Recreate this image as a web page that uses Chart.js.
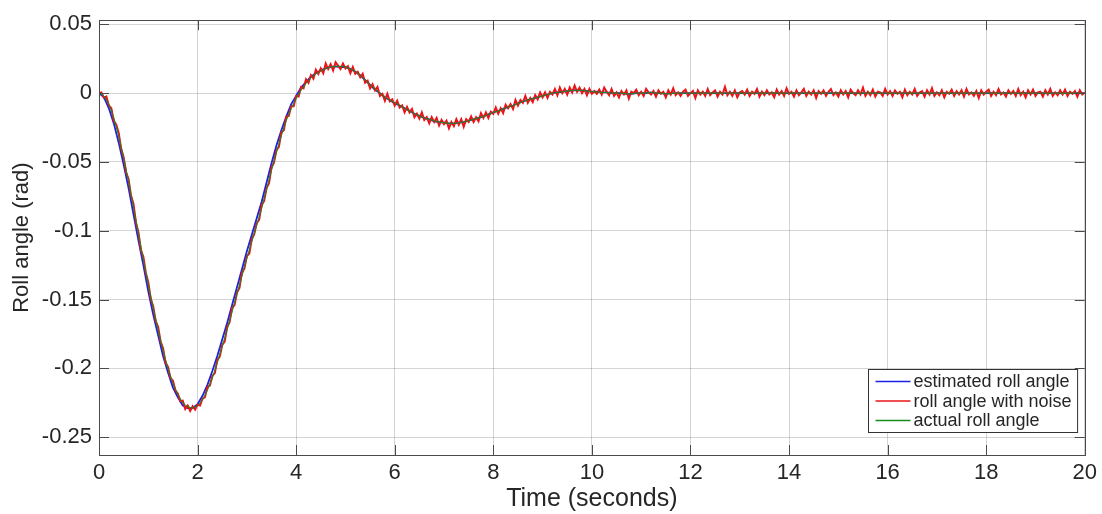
<!DOCTYPE html>
<html>
<head>
<meta charset="utf-8">
<script src="https://cdn.jsdelivr.net/npm/chart.js@4.4.1/dist/chart.umd.min.js"></script>
<style>
  html, body { margin: 0; padding: 0; background: #fff; }
  #wrap { width: 1102px; height: 514px; }
</style>
</head>
<body>
<div id="wrap"><canvas id="rollChart" width="1102" height="514"></canvas></div>
<script>
// sample times (s) for the estimated / actual signals
const timeLabels = [
  0, 0.1, 0.2, 0.3, 0.4, 0.5, 0.6, 0.7, 0.8, 0.9,
  1, 1.1, 1.2, 1.3, 1.4, 1.5, 1.6, 1.7, 1.8, 1.9,
  2, 2.1, 2.2, 2.3, 2.4, 2.5, 2.6, 2.7, 2.8, 2.9,
  3, 3.1, 3.2, 3.3, 3.4, 3.5, 3.6, 3.7, 3.8, 3.9,
  4, 4.1, 4.2, 4.3, 4.4, 4.5, 4.6, 4.7, 4.8, 4.9,
  5, 5.1, 5.2, 5.3, 5.4, 5.5, 5.6, 5.7, 5.8, 5.9,
  6, 6.1, 6.2, 6.3, 6.4, 6.5, 6.6, 6.7, 6.8, 6.9,
  7, 7.1, 7.2, 7.3, 7.4, 7.5, 7.6, 7.7, 7.8, 7.9,
  8, 8.1, 8.2, 8.3, 8.4, 8.5, 8.6, 8.7, 8.8, 8.9,
  9, 9.1, 9.2, 9.3, 9.4, 9.5, 9.6, 9.7, 9.8, 9.9,
  10, 10.1, 10.2, 10.3, 10.4, 10.5, 10.6, 10.7, 10.8, 10.9,
  11, 11.1, 11.2, 11.3, 11.4, 11.5, 11.6, 11.7, 11.8, 11.9,
  12, 12.1, 12.2, 12.3, 12.4, 12.5, 12.6, 12.7, 12.8, 12.9,
  13, 13.1, 13.2, 13.3, 13.4, 13.5, 13.6, 13.7, 13.8, 13.9,
  14, 14.1, 14.2, 14.3, 14.4, 14.5, 14.6, 14.7, 14.8, 14.9,
  15, 15.1, 15.2, 15.3, 15.4, 15.5, 15.6, 15.7, 15.8, 15.9,
  16, 16.1, 16.2, 16.3, 16.4, 16.5, 16.6, 16.7, 16.8, 16.9,
  17, 17.1, 17.2, 17.3, 17.4, 17.5, 17.6, 17.7, 17.8, 17.9,
  18, 18.1, 18.2, 18.3, 18.4, 18.5, 18.6, 18.7, 18.8, 18.9,
  19, 19.1, 19.2, 19.3, 19.4, 19.5, 19.6, 19.7, 19.8, 19.9,
  20
];

// estimated roll angle (rad)
const rollEstimated = [
  0, -0.003, -0.011, -0.022, -0.036, -0.052, -0.069, -0.088, -0.107, -0.125,
  -0.144, -0.161, -0.176, -0.191, -0.203, -0.214, -0.221, -0.227, -0.229, -0.229,
  -0.226, -0.22, -0.212, -0.202, -0.191, -0.179, -0.167, -0.154, -0.141, -0.128,
  -0.115, -0.103, -0.091, -0.079, -0.065, -0.051, -0.038, -0.027, -0.017, -0.008,
  -0.002, 0.004, 0.008, 0.012, 0.0145, 0.0165, 0.018, 0.019, 0.0195, 0.019,
  0.019, 0.0175, 0.0155, 0.013, 0.0095, 0.006, 0.0025, 0, -0.003, -0.005,
  -0.0075, -0.009, -0.011, -0.013, -0.015, -0.0165, -0.018, -0.019, -0.0205, -0.021,
  -0.0215, -0.022, -0.022, -0.0215, -0.021, -0.02, -0.019, -0.018, -0.017, -0.0155,
  -0.014, -0.013, -0.0115, -0.01, -0.009, -0.0075, -0.006, -0.005, -0.004, -0.003,
  -0.002, -0.001, 0, 0.0005, 0.001, 0.0015, 0.002, 0.002, 0.002, 0.0015,
  0.001, 0.001, 0.0005, 0.0005, 0, 0, 0, -0.0005, -0.0005, 0,
  0, 0, 0.0005, 0, 0, -0.0005, 0, 0, 0, 0,
  0, 0, 0, 0, 0, 0, 0, 0, 0, 0,
  0, 0, 0, 0, 0, 0, 0, 0, 0, 0,
  0, 0, 0, 0, 0, 0, 0, 0, 0, 0,
  0, 0, 0, 0, 0, 0, 0, 0, 0, 0,
  0, 0, 0, 0, 0, 0, 0, 0, 0, 0,
  0, 0, 0, 0, 0, 0, 0, 0, 0, 0,
  0, 0, 0, 0, 0, 0, 0, 0, 0, 0,
  0, 0, 0, 0, 0, 0, 0, 0, 0, 0,
  0
];

// actual roll angle (rad)
const rollActual = [
  0, -0.002, -0.008, -0.018, -0.031, -0.047, -0.064, -0.083, -0.102, -0.121,
  -0.139, -0.156, -0.172, -0.187, -0.2, -0.211, -0.219, -0.225, -0.228, -0.229,
  -0.227, -0.223, -0.216, -0.207, -0.196, -0.184, -0.172, -0.159, -0.146, -0.133,
  -0.12, -0.108, -0.096, -0.084, -0.07, -0.056, -0.043, -0.031, -0.02, -0.011,
  -0.004, 0.002, 0.007, 0.011, 0.014, 0.016, 0.018, 0.019, 0.0195, 0.0195,
  0.019, 0.0175, 0.016, 0.013, 0.0095, 0.006, 0.003, 0, -0.003, -0.005,
  -0.007, -0.009, -0.011, -0.013, -0.015, -0.0165, -0.018, -0.019, -0.02, -0.021,
  -0.0215, -0.022, -0.022, -0.0215, -0.021, -0.02, -0.019, -0.018, -0.017, -0.0155,
  -0.014, -0.013, -0.0115, -0.01, -0.009, -0.0075, -0.006, -0.005, -0.004, -0.003,
  -0.002, -0.001, 0, 0.0005, 0.001, 0.0015, 0.002, 0.002, 0.002, 0.0015,
  0.001, 0.001, 0.0005, 0.0005, 0, 0, 0, -0.0005, -0.0005, 0,
  0, 0, 0.0005, 0, 0, -0.0005, -0.0005, 0, 0, 0,
  0, 0, 0, 0, 0, 0, 0, 0, 0, 0,
  0, 0, 0, 0, 0, 0, 0, 0, 0, 0,
  0, 0, 0, 0, 0, 0, 0, 0, 0, 0,
  0, 0, 0, 0, 0, 0, 0, 0, 0, 0,
  0, 0, 0, 0, 0, 0, 0, 0, 0, 0,
  0, 0, 0, 0, 0, 0, 0, 0, 0, 0,
  0, 0, 0, 0, 0, 0, 0, 0, 0, 0,
  0, 0, 0, 0, 0, 0, 0, 0, 0, 0,
  0
];

// the noisy measurement is sampled twice as often
const noiseTimes = [
  0, 0.05, 0.1, 0.15, 0.2, 0.25, 0.3, 0.35, 0.4, 0.45, 0.5, 0.55, 0.6, 0.65, 0.7, 0.75, 0.8, 0.85, 0.9, 0.95,
  1, 1.05, 1.1, 1.15, 1.2, 1.25, 1.3, 1.35, 1.4, 1.45, 1.5, 1.55, 1.6, 1.65, 1.7, 1.75, 1.8, 1.85, 1.9, 1.95,
  2, 2.05, 2.1, 2.15, 2.2, 2.25, 2.3, 2.35, 2.4, 2.45, 2.5, 2.55, 2.6, 2.65, 2.7, 2.75, 2.8, 2.85, 2.9, 2.95,
  3, 3.05, 3.1, 3.15, 3.2, 3.25, 3.3, 3.35, 3.4, 3.45, 3.5, 3.55, 3.6, 3.65, 3.7, 3.75, 3.8, 3.85, 3.9, 3.95,
  4, 4.05, 4.1, 4.15, 4.2, 4.25, 4.3, 4.35, 4.4, 4.45, 4.5, 4.55, 4.6, 4.65, 4.7, 4.75, 4.8, 4.85, 4.9, 4.95,
  5, 5.05, 5.1, 5.15, 5.2, 5.25, 5.3, 5.35, 5.4, 5.45, 5.5, 5.55, 5.6, 5.65, 5.7, 5.75, 5.8, 5.85, 5.9, 5.95,
  6, 6.05, 6.1, 6.15, 6.2, 6.25, 6.3, 6.35, 6.4, 6.45, 6.5, 6.55, 6.6, 6.65, 6.7, 6.75, 6.8, 6.85, 6.9, 6.95,
  7, 7.05, 7.1, 7.15, 7.2, 7.25, 7.3, 7.35, 7.4, 7.45, 7.5, 7.55, 7.6, 7.65, 7.7, 7.75, 7.8, 7.85, 7.9, 7.95,
  8, 8.05, 8.1, 8.15, 8.2, 8.25, 8.3, 8.35, 8.4, 8.45, 8.5, 8.55, 8.6, 8.65, 8.7, 8.75, 8.8, 8.85, 8.9, 8.95,
  9, 9.05, 9.1, 9.15, 9.2, 9.25, 9.3, 9.35, 9.4, 9.45, 9.5, 9.55, 9.6, 9.65, 9.7, 9.75, 9.8, 9.85, 9.9, 9.95,
  10, 10.05, 10.1, 10.15, 10.2, 10.25, 10.3, 10.35, 10.4, 10.45, 10.5, 10.55, 10.6, 10.65, 10.7, 10.75, 10.8, 10.85, 10.9, 10.95,
  11, 11.05, 11.1, 11.15, 11.2, 11.25, 11.3, 11.35, 11.4, 11.45, 11.5, 11.55, 11.6, 11.65, 11.7, 11.75, 11.8, 11.85, 11.9, 11.95,
  12, 12.05, 12.1, 12.15, 12.2, 12.25, 12.3, 12.35, 12.4, 12.45, 12.5, 12.55, 12.6, 12.65, 12.7, 12.75, 12.8, 12.85, 12.9, 12.95,
  13, 13.05, 13.1, 13.15, 13.2, 13.25, 13.3, 13.35, 13.4, 13.45, 13.5, 13.55, 13.6, 13.65, 13.7, 13.75, 13.8, 13.85, 13.9, 13.95,
  14, 14.05, 14.1, 14.15, 14.2, 14.25, 14.3, 14.35, 14.4, 14.45, 14.5, 14.55, 14.6, 14.65, 14.7, 14.75, 14.8, 14.85, 14.9, 14.95,
  15, 15.05, 15.1, 15.15, 15.2, 15.25, 15.3, 15.35, 15.4, 15.45, 15.5, 15.55, 15.6, 15.65, 15.7, 15.75, 15.8, 15.85, 15.9, 15.95,
  16, 16.05, 16.1, 16.15, 16.2, 16.25, 16.3, 16.35, 16.4, 16.45, 16.5, 16.55, 16.6, 16.65, 16.7, 16.75, 16.8, 16.85, 16.9, 16.95,
  17, 17.05, 17.1, 17.15, 17.2, 17.25, 17.3, 17.35, 17.4, 17.45, 17.5, 17.55, 17.6, 17.65, 17.7, 17.75, 17.8, 17.85, 17.9, 17.95,
  18, 18.05, 18.1, 18.15, 18.2, 18.25, 18.3, 18.35, 18.4, 18.45, 18.5, 18.55, 18.6, 18.65, 18.7, 18.75, 18.8, 18.85, 18.9, 18.95,
  19, 19.05, 19.1, 19.15, 19.2, 19.25, 19.3, 19.35, 19.4, 19.45, 19.5, 19.55, 19.6, 19.65, 19.7, 19.75, 19.8, 19.85, 19.9, 19.95,
  20
];

// roll angle with measurement noise (rad)
const rollNoisy = [
  0, 0.0005, -0.0035, -0.0025, -0.009, -0.011, -0.02, -0.023, -0.029, -0.0405,
  -0.0465, -0.0575, -0.0625, -0.0745, -0.0805, -0.094, -0.101, -0.114, -0.119, -0.1305,
  -0.1375, -0.1495, -0.155, -0.1655, -0.17, -0.1805, -0.1855, -0.196, -0.199, -0.207,
  -0.209, -0.216, -0.2185, -0.224, -0.2235, -0.2295, -0.227, -0.231, -0.2275, -0.23,
  -0.2265, -0.227, -0.222, -0.221, -0.2135, -0.2125, -0.2055, -0.2035, -0.194, -0.1915,
  -0.183, -0.1805, -0.17, -0.1665, -0.156, -0.154, -0.145, -0.1415, -0.1305, -0.1275,
  -0.1185, -0.1165, -0.106, -0.1025, -0.0945, -0.092, -0.081, -0.0785, -0.069, -0.0655,
  -0.054, -0.0505, -0.0415, -0.039, -0.0285, -0.027, -0.017, -0.0165, -0.0095, -0.0095,
  -0.002, -0.0025, 0.0045, 0.0035, 0.01, 0.0075, 0.013, 0.0105, 0.017, 0.014,
  0.018, 0.0145, 0.0215, 0.0175, 0.021, 0.0165, 0.0225, 0.02, 0.0175, 0.0215,
  0.018, 0.0195, 0.0145, 0.019, 0.014, 0.0155, 0.0115, 0.014, 0.0075, 0.009,
  0.0035, 0.0065, 0.002, 0.0045, -0.002, -0.0005, -0.0055, -0.0005, -0.006, -0.0045,
  -0.009, -0.0055, -0.0105, -0.009, -0.014, -0.01, -0.014, -0.0115, -0.0175, -0.015,
  -0.0185, -0.014, -0.0195, -0.0175, -0.022, -0.0175, -0.021, -0.018, -0.0235, -0.0195,
  -0.0225, -0.02, -0.0255, -0.021, -0.024, -0.019, -0.023, -0.019, -0.0245, -0.019,
  -0.021, -0.017, -0.021, -0.0175, -0.0205, -0.0145, -0.018, -0.014, -0.018, -0.0135,
  -0.015, -0.0105, -0.015, -0.011, -0.0145, -0.0085, -0.011, -0.008, -0.0115, -0.005,
  -0.009, -0.005, -0.007, -0.002, -0.007, -0.0035, -0.0065, -0.0015, -0.0045, 0.0005,
  -0.003, 0.0005, -0.0035, 0.001, -0.001, 0.003, -0.0015, 0.004, 0, 0.003,
  -0.001, 0.004, 0.0005, 0.0055, 0.001, 0.004, 0, 0.003, -0.0015, 0.003,
  -0.0005,
  0.0015, -0.0005, 0.0025, -0.001, 0.004, 0.001, -0.0015, 0.003, -0.002, 0.0005,
  -0.003, 0.0015, -0.001, 0.002, -0.004, 0.001, 0, 0.0025, -0.0015, 0.001,
  -0.002, 0.003, 0.0005, -0.001, 0.0015, -0.0025, 0.002, -0.0005, 0.001, -0.003,
  0.002, -0.001, 0.0035, -0.0015, 0.0005, -0.002, 0.001, 0.0025, -0.002, 0,
  0.0015, -0.0035, 0.002, -0.001, 0.001, -0.002, 0.003, -0.0015, 0.0005, 0.002,
  -0.0025, 0.001, -0.001, 0.0045, -0.0015, 0.001, -0.002, 0.002, -0.003, 0.0005,
  0.0015, -0.001, 0.0025, -0.002, 0.001, -0.0005, 0.003, -0.0025, 0.001, -0.0015,
  0.002, -0.001, 0.0005, -0.003, 0.0025, -0.001, 0.0015, -0.002, 0.0035, -0.0005,
  0.001, -0.0025, 0.002, -0.0015, 0.0005, 0.003, -0.002, 0.001, -0.001, 0.002,
  -0.0035, 0.0015, -0.0005, 0.002, -0.002, 0.001, 0.003, -0.0015, 0.0005, -0.0025,
  0.002, -0.001, 0.0015, -0.003, 0.0025, 0, -0.0015, 0.002, -0.001, 0.004,
  -0.002, 0.001, -0.0015, 0.0025, -0.0025, 0.001, 0.0005, -0.002, 0.003, -0.001,
  0.0015, -0.002, 0.002, -0.0005, 0.001, -0.003, 0.0025, -0.0015, 0.001, -0.001,
  0.003, -0.002, 0.0005, 0.0015, -0.0025, 0.002, -0.001, 0.0035, -0.002, 0.0005,
  -0.0015, 0.002, -0.003, 0.001, -0.0005, 0.0025, -0.002, 0.0015, -0.001, 0.002,
  -0.0025, 0.003, -0.001, 0.0005, -0.002, 0.0015, -0.0035, 0.002, -0.001, 0.001,
  0.0025, -0.002, 0.001, -0.0015, 0.003, -0.001, 0.0005, -0.0025, 0.002, -0.0005,
  0.0015, -0.002, 0.003, -0.0015, 0.001, -0.003, 0.002, -0.001, 0.0025, -0.002,
  0.0005, 0.001, -0.0025, 0.002, -0.001, 0.003, -0.002, 0.0005, -0.0015, 0.002,
  -0.001, 0.0025, -0.002, 0.001, -0.0005, 0.0015, -0.0025, 0.002, -0.001, 0.0005
];

const seriesNames = ['estimated roll angle', 'roll angle with noise', 'actual roll angle'];
const seriesColors = ['rgb(25, 35, 225)', 'rgb(235, 20, 25)', 'rgb(20, 140, 30)'];

const FONT = '"Liberation Sans", Arial, Helvetica, sans-serif';
const INK = '#262626';

// matlab style box, inner tick marks and legend inside the axes
const axesBox = {
    id: 'axesBox',
    afterDraw(chart) {
        const { ctx, chartArea: a, scales } = chart;
        ctx.save();
        ctx.strokeStyle = '#4a4a4a';
        ctx.lineWidth = 1;
        ctx.beginPath();
        scales.x.ticks.forEach(t => {
            const px = Math.round(scales.x.getPixelForValue(t.value)) + 0.5;
            ctx.moveTo(px, a.bottom); ctx.lineTo(px, a.bottom - 10);
            ctx.moveTo(px, a.top); ctx.lineTo(px, a.top + 10);
        });
        scales.y.ticks.forEach(t => {
            const py = Math.round(scales.y.getPixelForValue(t.value)) + 0.5;
            ctx.moveTo(a.left, py); ctx.lineTo(a.left + 10, py);
            ctx.moveTo(a.right, py); ctx.lineTo(a.right - 10, py);
        });
        ctx.stroke();
        ctx.strokeRect(Math.round(a.left) + 0.5, Math.round(a.top) + 0.5,
            Math.round(a.right - a.left), Math.round(a.bottom - a.top));

        // legend
        ctx.font = '18px ' + FONT;
        const names = chart.data.datasets.map(d => d.label);
        const textW = Math.max(...names.map(n => ctx.measureText(n).width));
        const lineLen = 35;
        const boxW = 7 + lineLen + 3 + textW + 6;
        const boxH = 63;
        const bx = Math.round(a.right - 8 - boxW) + 0.5;
        const by = Math.round(a.bottom - 23 - boxH) + 0.5;
        ctx.fillStyle = '#fff';
        ctx.fillRect(bx, by, boxW, boxH);
        ctx.strokeStyle = '#333';
        ctx.strokeRect(bx, by, boxW, boxH);
        ctx.textBaseline = 'middle';
        ctx.textAlign = 'left';
        names.forEach((n, i) => {
            const cy = by + 12 + i * 19.5;
            ctx.strokeStyle = chart.data.datasets[i].borderColor;
            ctx.lineWidth = 1.5;
            ctx.beginPath();
            ctx.moveTo(bx + 7, cy); ctx.lineTo(bx + 7 + lineLen, cy);
            ctx.stroke();
            ctx.fillStyle = INK;
            ctx.fillText(n, bx + 7 + lineLen + 3, cy + 1);
        });
        ctx.restore();
    }
};

const ctx = document.getElementById('rollChart').getContext('2d');

new Chart(ctx, {
    type: 'line',
    data: {
        labels: timeLabels,
        datasets: [
            { label: seriesNames[0], data: rollEstimated, borderColor: seriesColors[0], borderWidth: 1.8, order: 2 },
            {
                label: seriesNames[1],
                data: noiseTimes.map((t, i) => ({ x: t, y: rollNoisy[i] })),
                borderColor: seriesColors[1],
                borderWidth: 2,
                order: 1
            },
            { label: seriesNames[2], data: rollActual, borderColor: seriesColors[2], borderWidth: 1, order: 0 }
        ]
    },
    options: {
        responsive: false,
        animation: false,
        devicePixelRatio: 1,
        elements: {
            point: { radius: 0 },
            line: { tension: 0, fill: false }
        },
        layout: { padding: { left: 0, right: 15, top: 18, bottom: 0 } },
        plugins: {
            legend: { display: false },
            tooltip: { enabled: false }
        },
        scales: {
            x: {
                type: 'linear',
                min: 0,
                max: 20,
                ticks: {
                    stepSize: 2,
                    maxRotation: 0,
                    padding: 5,
                    color: INK,
                    font: { family: FONT, size: 22 }
                },
                grid: { color: 'rgba(0,0,0,0.17)', drawTicks: false },
                border: { color: '#4a4a4a' },
                title: {
                    display: true,
                    text: 'Time (seconds)',
                    color: INK,
                    font: { family: FONT, size: 25 },
                    padding: { top: 0, bottom: 0 }
                },
                afterFit: (scale) => { scale.height = 59; }
            },
            y: {
                min: -0.263,
                max: 0.053,
                ticks: {
                    stepSize: 0.05,
                    includeBounds: false,
                    padding: 7,
                    color: INK,
                    font: { family: FONT, size: 22 },
                    callback: (v) => String(Number(v.toFixed(2)))
                },
                grid: { color: 'rgba(0,0,0,0.17)', drawTicks: false },
                border: { color: '#4a4a4a' },
                title: {
                    display: true,
                    text: 'Roll angle (rad)',
                    color: INK,
                    font: { family: FONT, size: 22 },
                    padding: { top: 9, bottom: 0 }
                },
                afterFit: (scale) => { scale.width = 99; }
            }
        }
    },
    plugins: [axesBox]
});
</script>
</body>
</html>
